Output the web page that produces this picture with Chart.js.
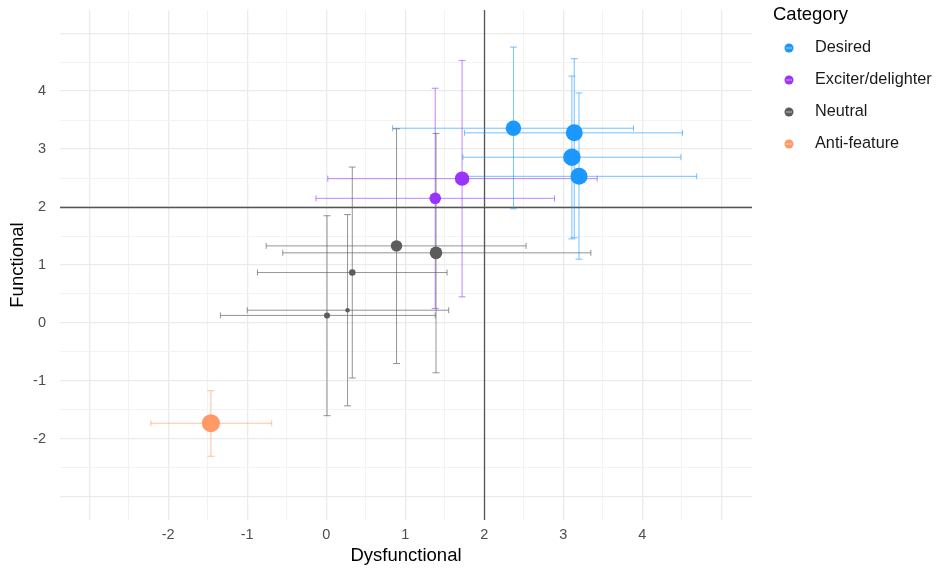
<!DOCTYPE html>
<html>
<head>
<meta charset="utf-8">
<script src="https://cdn.jsdelivr.net/npm/chart.js@4.4.1/dist/chart.umd.min.js"></script>
<style>
  html, body { margin: 0; padding: 0; background: #fff; }
  #wrap { width: 939px; height: 569px; }
</style>
</head>
<body>
<div id="wrap"><canvas id="kanoChart" width="939" height="569"></canvas></div>
<script>
// categories and their colours
const categories = ['Desired', 'Exciter/delighter', 'Neutral', 'Anti-feature'];
const categoryColors = ['#1a98ff', '#9933ff', '#5c5c5c', '#ff9966'];
const errorColors = ['rgba(26,152,255,0.6)', 'rgba(153,51,255,0.6)', 'rgba(92,92,92,0.65)', 'rgba(255,153,102,0.6)'];

// one entry per feature
const pointCategory = [0, 0, 0, 0, 1, 1, 2, 2, 2, 2, 2, 3];
const dysfunctional = [2.37, 3.14, 3.11, 3.20, 1.72, 1.38, 0.89, 1.39, 0.33, 0.27, 0.01, -1.46];
const functional    = [3.36, 3.28, 2.86, 2.53, 2.49, 2.15, 1.33, 1.21, 0.87, 0.22, 0.13, -1.73];
const dysLow  = [0.84, 1.75, 1.73, 1.71, 0.02, -0.13, -0.76, -0.55, -0.87, -1.00, -1.34, -2.22];
const dysHigh = [3.89, 4.51, 4.49, 4.69, 3.43, 2.89, 2.53, 3.35, 1.53, 1.55, 1.38, -0.69];
const funLow  = [1.97, 1.47, 1.45, 1.10, 0.45, 0.25, -0.70, -0.86, -0.95, -1.43, -1.60, -2.30];
const funHigh = [4.76, 4.56, 4.26, 3.97, 4.53, 4.05, 3.35, 3.27, 2.69, 1.87, 1.85, -1.17];
const weight  = [7.7, 8.5, 8.7, 8.5, 7.2, 5.8, 5.7, 6.3, 3.3, 2.2, 3.0, 9.0];

// axes
const xGrid = [-3, -2.5, -2, -1.5, -1, -0.5, 0, 0.5, 1, 1.5, 2, 2.5, 3, 3.5, 4, 4.5, 5];
const yGrid = [-3, -2.5, -2, -1.5, -1, -0.5, 0, 0.5, 1, 1.5, 2, 2.5, 3, 3.5, 4, 4.5, 5];
const xTickLabels = [-2, -1, 0, 1, 2, 3, 4];
const yTickLabels = [-2, -1, 0, 1, 2, 3, 4];
const refX = 2;
const refY = 2;

const FONT = '"Liberation Sans", Arial, sans-serif';

const datasets = categories.map((name, c) => {
    const data = [];
    pointCategory.forEach((cat, i) => {
        if (cat !== c) return;
        data.push({
            x: dysfunctional[i], y: functional[i],
            xMin: dysLow[i], xMax: dysHigh[i],
            yMin: funLow[i], yMax: funHigh[i],
            w: weight[i]
        });
    });
    return {
        label: name,
        data: data,
        backgroundColor: categoryColors[c],
        errorColor: errorColors[c],
        borderWidth: 0,
        pointRadius: ctx => ctx.raw ? ctx.raw.w : 3,
        pointHoverRadius: ctx => ctx.raw ? ctx.raw.w : 3
    };
});

// error bars + reference lines, drawn under the points
const errorBars = {
    id: 'errorBars',
    beforeDatasetsDraw(chart) {
        const { ctx, chartArea, scales: { x, y } } = chart;
        ctx.save();
        const line = (x0, y0, x1, y1) => {
            ctx.beginPath(); ctx.moveTo(x0, y0); ctx.lineTo(x1, y1); ctx.stroke();
        };
        ctx.strokeStyle = '#555555';
        ctx.lineWidth = 1.3;
        const rx = Math.round(x.getPixelForValue(refX)) + 0.5;
        const ry = Math.round(y.getPixelForValue(refY)) + 0.5;
        line(rx, chartArea.top, rx, chartArea.bottom);
        line(chartArea.left, ry, chartArea.right, ry);

        ctx.lineWidth = 1;
        chart.data.datasets.forEach(ds => {
            ctx.strokeStyle = ds.errorColor;
            ds.data.forEach(p => {
                const px = x.getPixelForValue(p.x), py = y.getPixelForValue(p.y);
                const x0 = x.getPixelForValue(p.xMin), x1 = x.getPixelForValue(p.xMax);
                const y0 = y.getPixelForValue(p.yMin), y1 = y.getPixelForValue(p.yMax);
                line(x0, py, x1, py);
                line(x0, py - 3, x0, py + 3);
                line(x1, py - 3, x1, py + 3);
                line(px, y0, px, y1);
                line(px - 3.5, y0, px + 3.5, y0);
                line(px - 3.5, y1, px + 3.5, y1);
            });
        });
        ctx.restore();
    }
};

// legend on the right, ggplot style
const sideLegend = {
    id: 'sideLegend',
    afterDraw(chart) {
        const { ctx } = chart;
        ctx.save();
        ctx.textBaseline = 'middle';
        ctx.textAlign = 'left';
        ctx.fillStyle = '#000';
        ctx.font = '18.5px ' + FONT;
        ctx.fillText('Category', 773, 15);
        ctx.font = '16.3px ' + FONT;
        chart.data.datasets.forEach((ds, i) => {
            const cy = 48 + i * 32;
            ctx.fillStyle = ds.backgroundColor;
            ctx.beginPath();
            ctx.arc(789, cy, 4.5, 0, Math.PI * 2);
            ctx.fill();
            ctx.strokeStyle = 'rgba(255,255,255,0.6)';
            ctx.lineWidth = 1;
            ctx.beginPath(); ctx.moveTo(786, cy); ctx.lineTo(792, cy); ctx.stroke();
            ctx.fillStyle = '#1a1a1a';
            ctx.fillText(ds.label, 815, cy);
        });
        ctx.restore();
    }
};

const gridWidth = ctx => (Number.isInteger(ctx.tick.value) ? 1.3 : 0.9);
const gridColor = ctx => (Number.isInteger(ctx.tick.value) ? '#ebebeb' : '#f2f2f2');

new Chart(document.getElementById('kanoChart').getContext('2d'), {
    type: 'scatter',
    data: { datasets: datasets },
    options: {
        responsive: false,
        animation: false,
        layout: { padding: { top: 10, right: 187, left: 0, bottom: 0 } },
        plugins: {
            legend: { display: false },
            tooltip: { enabled: false }
        },
        scales: {
            x: {
                type: 'linear',
                min: -3.37,
                max: 5.39,
                afterBuildTicks: s => { s.ticks = xGrid.map(v => ({ value: v })); },
                afterFit: s => { s.height = 49; s.paddingLeft = 0; s.paddingRight = 0; },
                border: { display: false },
                grid: { color: gridColor, lineWidth: gridWidth, drawTicks: false },
                ticks: {
                    autoSkip: false,
                    maxRotation: 0,
                    padding: 6,
                    color: '#4d4d4d',
                    font: { family: FONT, size: 14.5 },
                    callback: v => (xTickLabels.includes(v) ? String(v) : '')
                },
                title: {
                    display: true,
                    text: 'Dysfunctional',
                    color: '#000',
                    padding: { top: 2, bottom: 2 },
                    font: { family: FONT, size: 18.5 }
                }
            },
            y: {
                type: 'linear',
                min: -3.4,
                max: 5.4,
                afterBuildTicks: s => { s.ticks = yGrid.map(v => ({ value: v })); },
                afterFit: s => { s.width = 60; s.paddingTop = 0; s.paddingBottom = 0; },
                border: { display: false },
                grid: { color: gridColor, lineWidth: gridWidth, drawTicks: false },
                ticks: {
                    autoSkip: false,
                    padding: 14,
                    color: '#4d4d4d',
                    font: { family: FONT, size: 14.5 },
                    callback: v => (yTickLabels.includes(v) ? String(v) : '')
                },
                title: {
                    display: true,
                    text: 'Functional',
                    color: '#000',
                    padding: { top: 7, bottom: 2 },
                    font: { family: FONT, size: 18.5 }
                }
            }
        }
    },
    plugins: [errorBars, sideLegend]
});
</script>
</body>
</html>
